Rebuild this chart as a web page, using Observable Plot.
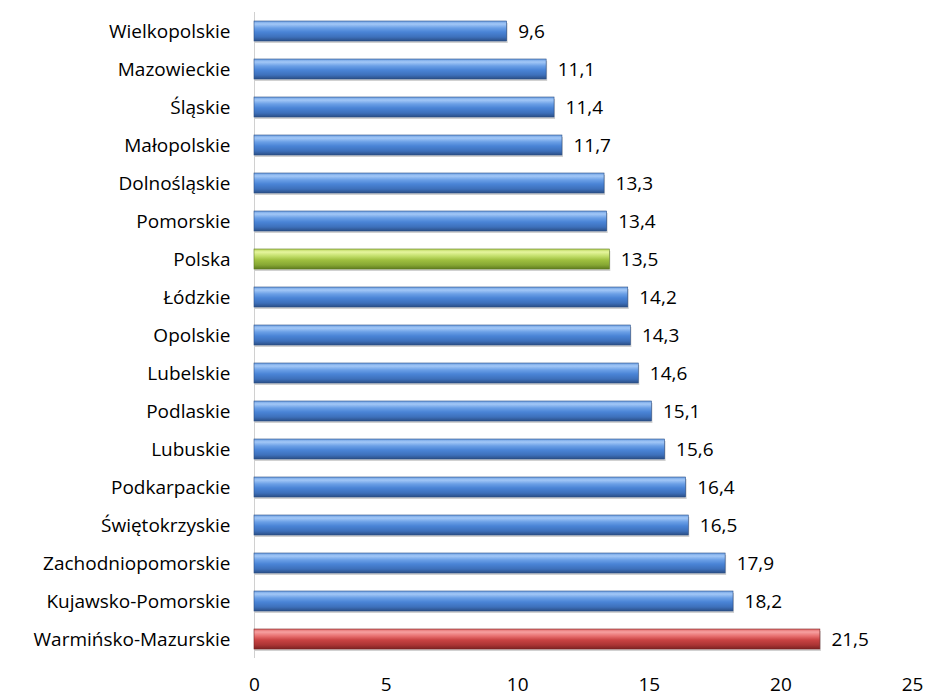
<!DOCTYPE html>
<html><head><meta charset="utf-8">
<script src="https://cdn.jsdelivr.net/npm/d3@7"></script>
<script src="https://cdn.jsdelivr.net/npm/@observablehq/plot@0.6"></script>
<style>body{margin:0;background:#fff;font-family:"Open Sans",sans-serif}</style>
</head><body><div id="chart"></div>
<script>
const regions = ["Wielkopolskie","Mazowieckie","Śląskie","Małopolskie","Dolnośląskie","Pomorskie","Polska","Łódzkie","Opolskie","Lubelskie","Podlaskie","Lubuskie","Podkarpackie","Świętokrzyskie","Zachodniopomorskie","Kujawsko-Pomorskie","Warmińsko-Mazurskie"];
const values = [9.6,11.1,11.4,11.7,13.3,13.4,13.5,14.2,14.3,14.6,15.1,15.6,16.4,16.5,17.9,18.2,21.5];
const xTicks = [0,5,10,15,20,25];
const kinds = regions.map(r => r === "Polska" ? "green" : r === "Warmińsko-Mazurskie" ? "red" : "blue");

const data = regions.map((r,i) => ({region:r, value:values[i], kind:kinds[i]}));
const fmt = v => v.toFixed(1).replace(".", ",");

const grads = {
  blue: ["#6c9fe2","#a3c8f7","#6a9fe6","#4a84d6","#3d70bb","#2b4f86"],
  green:["#b8d45a","#e6f59e","#c3df6c","#9fc040","#86a733","#5f7c20"],
  red:  ["#e06a6a","#f7a0a0","#e87070","#c94343","#ab3434","#7c2222"]
};
const defs = () => {
  const d = d3.create("svg:defs");
  for (const [k, c] of Object.entries(grads)) {
    const g = d.append("linearGradient").attr("id","g-"+k).attr("x1",0).attr("y1",0).attr("x2",0).attr("y2",1);
    [0,0.15,0.35,0.55,0.8,1].forEach((o,i)=>g.append("stop").attr("offset",o).attr("stop-color",c[i]));
  }
  return d.node();
};

const chart = Plot.plot({
  width: 926, height: 700,
  marginLeft: 254, marginRight: 14, marginTop: 12, marginBottom: 42,
  style: {fontFamily: "'Open Sans', sans-serif", fontSize: "19px", color: "#000", background: "#fff"},
  x: {domain: [0,25], ticks: xTicks, tickSize: 0, tickPadding: 19, label: null, tickFormat: d => d},
  y: {domain: regions, paddingInner: 0.47, paddingOuter: 0.235, label: null, tickSize: 0, tickPadding: 24},
  marks: [
    defs,
    Plot.gridX(xTicks.slice(1), {stroke: "#d9d9d9", strokeOpacity: 1, y1: 10, y2: 658}),
    Plot.ruleX([0], {stroke: "#d0d0d0"}),
    Plot.barX(data, {x: "value", y: "region", fill: "#000", dy: 2, dx: 1, opacity: 0.18}),
    Plot.barX(data, {x: "value", y: "region", fill: d => `url(#g-${d.kind})`, stroke: d => grads[d.kind][5], strokeWidth: 0.6}),
    Plot.text(data, {x: "value", y: "region", text: d => fmt(d.value), textAnchor: "start", dx: 11, fontSize: 19, fill: "#000"})
  ]
});
chart.querySelectorAll("[aria-label='y-axis tick label'] text, [aria-label='x-axis tick label'] text").forEach(t=>t.setAttribute("fill","#000"));
document.getElementById("chart").append(chart);
</script></body></html>
